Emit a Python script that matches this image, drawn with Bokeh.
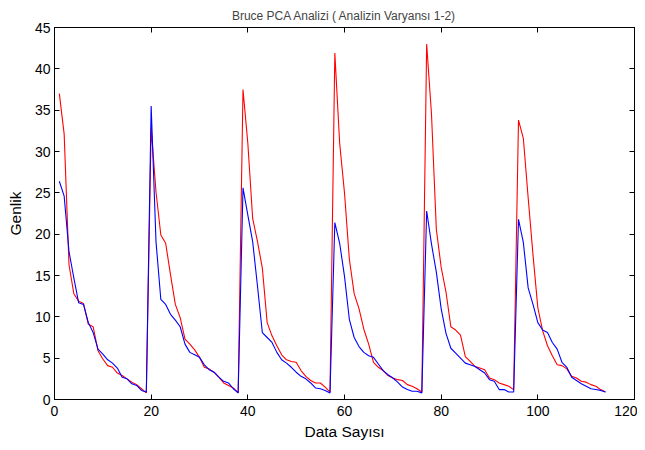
from bokeh.plotting import figure
from bokeh.models import LinearAxis, FixedTicker, Range1d
from bokeh.embed import file_html
from bokeh.resources import INLINE

data_index = list(range(1, 115))

red_values = [
    37.0, 32.1, 16.3, 12.8, 11.9, 11.6, 9.1, 8.8, 5.9, 4.9, 4.1, 3.9, 3.2, 2.9, 2.5, 2.1, 1.8, 1.3, 0.8,
    32.8, 25.1, 19.9, 18.9, 15.1, 11.5, 9.9, 7.3, 6.7, 6.0, 5.1, 3.9, 3.7, 3.3, 2.7, 2.0, 1.7, 1.4, 0.8,
    37.5, 31.0, 21.9, 19.1, 15.9, 9.3, 7.7, 6.5, 5.4, 4.8, 4.6, 4.5, 3.5, 2.8, 2.3, 2.0, 2.0, 1.5, 0.9,
    41.9, 31.0, 25.0, 17.0, 12.8, 11.0, 8.5, 6.7, 4.5, 3.9, 3.5, 2.9, 2.6, 2.4, 2.3, 1.8, 1.6, 1.3, 0.9,
    43.0, 34.5, 20.6, 16.0, 13.0, 8.8, 8.4, 7.8, 5.2, 4.6, 4.0, 3.8, 3.6, 2.6, 2.4, 2.0, 1.8, 1.6, 1.2,
    33.8, 31.6, 24.4, 17.5, 11.1, 8.3, 6.5, 5.3, 4.2, 4.1, 3.7, 2.8, 2.6, 2.2, 2.1, 1.8, 1.6, 1.2, 0.9,
]

blue_values = [
    26.4, 24.6, 17.9, 14.7, 11.7, 11.5, 9.3, 8.1, 6.1, 5.5, 4.8, 4.4, 3.8, 2.7, 2.5, 1.9, 1.7, 1.1, 0.9,
    35.5, 19.1, 12.1, 11.5, 10.3, 9.6, 8.8, 6.7, 5.7, 5.4, 5.1, 4.2, 3.6, 3.3, 2.7, 2.2, 2.0, 1.3, 0.8,
    25.6, 22.3, 19.1, 13.7, 8.1, 7.5, 6.9, 5.7, 4.8, 4.4, 3.9, 3.3, 2.8, 2.5, 2.0, 1.4, 1.3, 1.1, 0.8,
    21.4, 18.9, 14.9, 9.7, 7.5, 6.4, 5.7, 5.3, 5.1, 4.3, 3.5, 3.0, 2.6, 2.1, 1.5, 1.2, 1.0, 1.0, 0.8,
    22.8, 18.8, 15.4, 11.0, 8.0, 6.2, 5.6, 5.0, 4.4, 4.2, 4.0, 3.6, 3.2, 2.4, 2.2, 1.2, 1.2, 0.9, 0.9,
    21.8, 19.0, 13.5, 11.5, 9.3, 8.4, 8.1, 6.9, 6.1, 4.5, 3.9, 2.7, 2.3, 1.9, 1.6, 1.3, 1.2, 1.1, 0.9,
]

x_ticks = [0, 20, 40, 60, 80, 100, 120]
y_ticks = [0, 5, 10, 15, 20, 25, 30, 35, 40, 45]

title_text = "Bruce PCA Analizi ( Analizin Varyansı 1-2)"
x_label = "Data Sayısı"
y_label = "Genlik"

FONT = "Liberation Sans"
TICK_FS = "14px"
LABEL_FS = "15.5px"
TITLE_FS = "12px"

p = figure(width=637, height=442, output_backend="svg", toolbar_location=None,
           x_range=Range1d(0, 120), y_range=Range1d(0, 45),
           min_border_left=54, min_border_right=3, min_border_top=27, min_border_bottom=40)

p.title.text = title_text
p.title.align = "center"
p.title.text_font = FONT
p.title.text_font_size = TITLE_FS
p.title.text_font_style = "normal"
p.title.standoff = 10
p.title.offset = 0

p.line(data_index, red_values, line_color="#ff0000", line_width=1.1)
p.line(data_index, blue_values, line_color="#0000ff", line_width=1.1)

p.xgrid.visible = False
p.ygrid.visible = False
p.background_fill_color = "white"
p.border_fill_color = "white"
p.outline_line_color = "black"
p.outline_line_width = 1

for ax, ticks in ((p.xaxis[0], x_ticks), (p.yaxis[0], y_ticks)):
    ax.ticker = FixedTicker(ticks=ticks)
    ax.major_tick_in = 5
    ax.major_tick_out = 0
    ax.minor_tick_in = 0
    ax.minor_tick_out = 0
    ax.axis_line_color = "black"
    ax.major_tick_line_color = "black"
    ax.major_label_text_font = FONT
    ax.major_label_text_font_size = TICK_FS
    ax.major_label_text_color = "black"
    ax.axis_label_text_font = FONT
    ax.axis_label_text_font_size = LABEL_FS
    ax.axis_label_text_font_style = "normal"
    ax.axis_label_text_color = "black"

p.xaxis.axis_label = x_label
p.yaxis.axis_label = y_label
p.xaxis.major_label_standoff = 6
p.yaxis.major_label_standoff = 4
p.xaxis.axis_label_standoff = 4
p.yaxis.axis_label_standoff = 8

top_axis = LinearAxis(ticker=FixedTicker(ticks=x_ticks), major_tick_in=5, major_tick_out=0,
                      minor_tick_in=0, minor_tick_out=0, major_label_text_font_size="2px",
                      major_label_text_color=None, major_label_standoff=0)
right_axis = LinearAxis(ticker=FixedTicker(ticks=y_ticks), major_tick_in=5, major_tick_out=0,
                        minor_tick_in=0, minor_tick_out=0, major_label_text_font_size="2px",
                        major_label_text_color=None, major_label_standoff=0)
p.add_layout(top_axis, "above")
p.add_layout(right_axis, "right")

open("out.html", "w").write(file_html(p, INLINE))
